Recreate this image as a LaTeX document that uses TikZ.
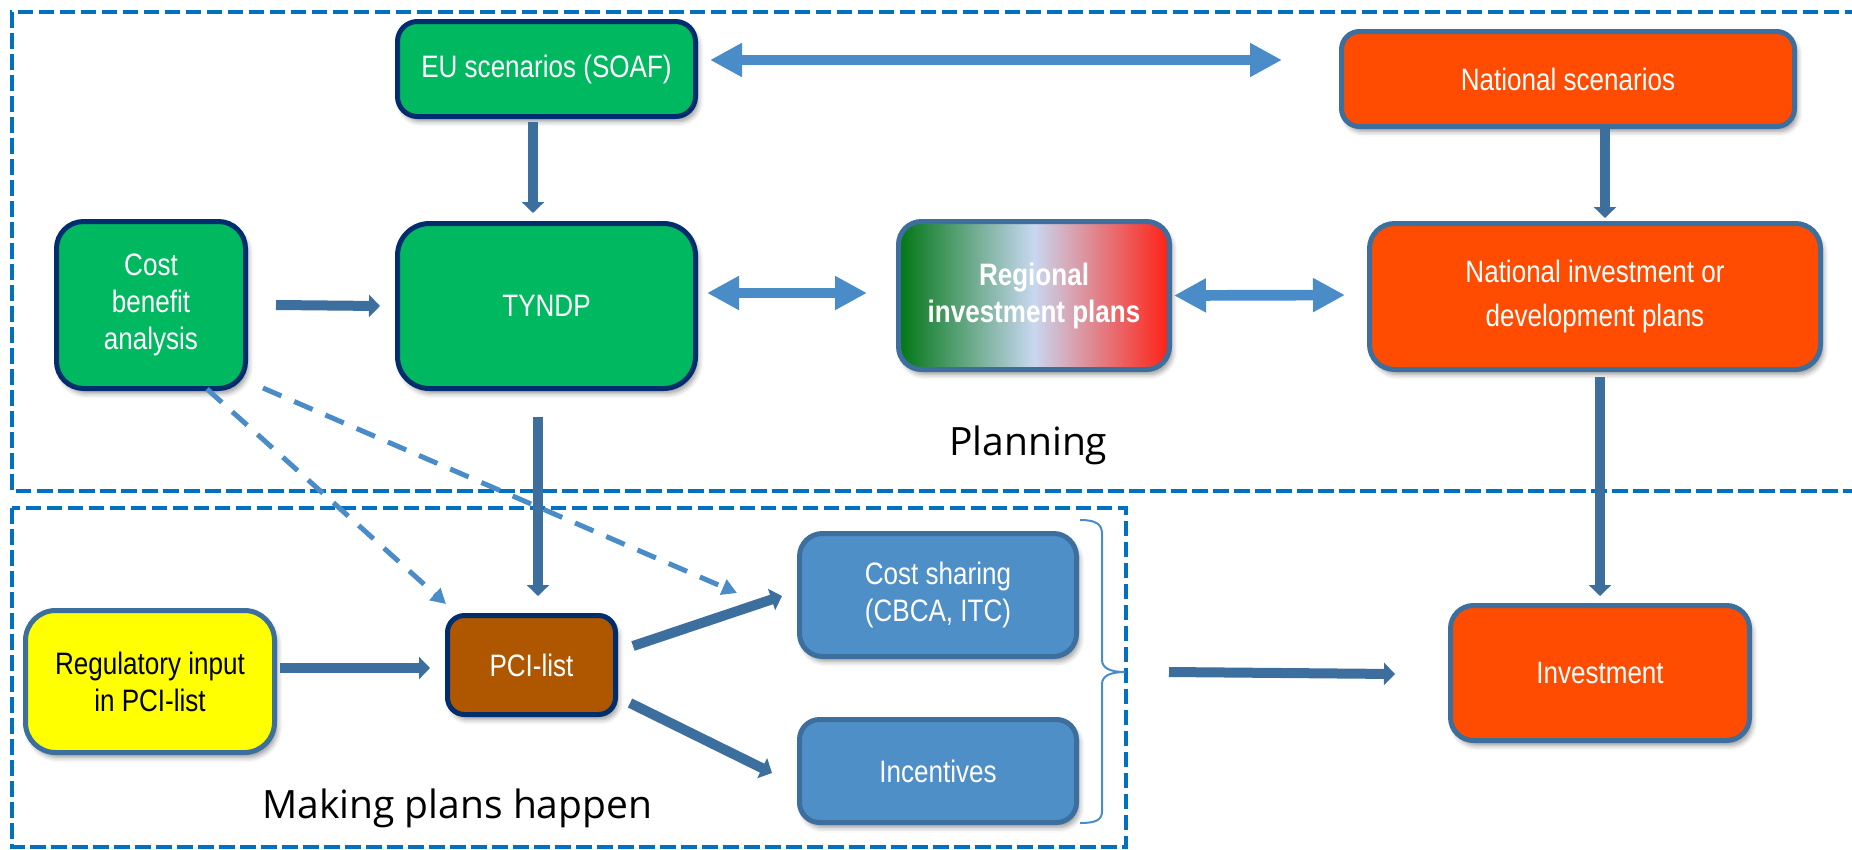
\documentclass[tikz,border=0pt]{standalone}
\usepackage{fontspec}
\newfontfamily\boxfont[FakeStretch=0.84]{Liberation Sans}
\newfontfamily\titlefont{Open Sans}
\usetikzlibrary{arrows.meta,shadows.blur,calc}
\definecolor{cgreen}{RGB}{0,184,96}
\definecolor{cnavy}{RGB}{0,45,110}
\definecolor{corange}{RGB}{255,76,0}
\definecolor{csteel}{RGB}{60,110,158}
\definecolor{clight}{RGB}{74,140,200}
\definecolor{cblue}{RGB}{79,143,200}
\definecolor{cbrown}{RGB}{174,87,0}
\definecolor{cyellow}{RGB}{255,255,0}
\definecolor{cdash}{RGB}{0,112,192}
\definecolor{gdark}{RGB}{0,118,20}
\definecolor{gmid}{RGB}{200,215,240}
\definecolor{gred}{RGB}{255,32,20}
\tikzset{
  box/.style={rounded corners=#1, line width=5pt, align=center, text=white, inner sep=2pt,
    font=\boxfont\fontsize{31}{37}\selectfont,
    blur shadow={shadow xshift=3pt,shadow yshift=-5pt,shadow blur radius=5pt,shadow opacity=40}},
  greenbox/.style={box=#1, fill=cgreen, draw=cnavy},
  orangebox/.style={box=#1, fill=corange, draw=csteel},
  bluebox/.style={box=#1, fill=cblue, draw=csteel},
  darrow/.style={line width=10pt, draw=csteel, -{Triangle[width=22pt,length=11pt]}},
  larrow/.style={line width=10.7pt, draw=clight, {Triangle[width=32pt,length=32pt]}-{Triangle[width=32pt,length=32pt]}},
  dasharrow/.style={line width=5pt, draw=clight, dash pattern=on 20pt off 14pt, -{Triangle[width=16pt,length=15pt]}},
  region/.style={draw=cdash, line width=4pt, dash pattern=on 15.5pt off 5.5pt},
  bracestyle/.style={draw=clight, line width=2pt},
  title/.style={anchor=base west, inner sep=0pt, font=\titlefont\fontsize{39}{45}\selectfont}
}
\begin{document}
\begin{tikzpicture}[x=1pt,y=-1pt]
\useasboundingbox (0,0) rectangle (1852,849);
% regions
\draw[region] (1860,12) -- (12,12) -- (12,491) -- (1860,491);
\draw[region] (12,508) rectangle (1126,847);
\node[title] (plan) at (949,455) {Planning};
\node[title] (make) at (262,818) {Making plans happen};
% nodes
\node[greenbox=20pt, minimum width=298pt, minimum height=95pt] (eu) at (546.5,69) {EU scenarios (SOAF)};
\node[greenbox=32pt, minimum width=298pt, minimum height=165pt] (tyndp) at (546.5,306) {TYNDP};
\node[greenbox=27pt, minimum width=189pt, minimum height=167pt] (cba) at (151,305) {Cost\\benefit\\analysis};
\node[box=23pt, draw=csteel, left color=gdark, right color=gred, middle color=gmid, minimum width=271pt, minimum height=148pt, font=\boxfont\bfseries\fontsize{31}{37}\selectfont] (reg) at (1034,295.5) {Regional\\investment plans};
\node[orangebox=18pt, minimum width=453pt, minimum height=95pt] (natsc) at (1568,79) {National scenarios};
\node[orangebox=25pt, minimum width=451pt, minimum height=146pt, font=\boxfont\fontsize{31}{43.5}\selectfont] (natinv) at (1595,296.5) {National investment or\\development plans};
\node[box=30pt, fill=cyellow, draw=csteel, text=black, minimum width=249pt, minimum height=142pt] (regin) at (150,681.5) {Regulatory input\\in PCI-list};
\node[box=17pt, fill=cbrown, draw=cnavy, minimum width=168pt, minimum height=99pt] (pci) at (531.5,665) {PCI-list};
\node[bluebox=23pt, minimum width=277pt, minimum height=123pt] (cost) at (938,595) {Cost sharing\\(CBCA, ITC)};
\node[bluebox=20pt, minimum width=277pt, minimum height=103pt] (incent) at (938,771) {Incentives};
\node[orangebox=23pt, minimum width=299pt, minimum height=135pt] (invest) at (1600,673) {Investment};
% brace
\draw[bracestyle] (1080,520) .. controls (1096,520) and (1102,524) .. (1102,534) -- (1102,660)
  .. controls (1102,668) and (1110,672) .. (1125,672)
  .. controls (1110,672) and (1102,676) .. (1102,684) -- (1102,811)
  .. controls (1102,820) and (1096,823) .. (1080,823);
\coordinate (bracetip) at (1125,672);
% connectors
\draw[larrow] ([xshift=12pt,yshift=9pt]eu.east) -- ([xshift=-57pt,yshift=19pt]natsc.west);
\draw[darrow] ([xshift=-13.5pt,yshift=-3pt]eu.south) -- ([xshift=-13.5pt,yshift=8pt]tyndp.north);
\draw[darrow] ([xshift=28pt]cba.east) -- ([xshift=-15pt]tyndp.west);
\draw[larrow] ([xshift=9pt,yshift=13pt]tyndp.east) -- ([xshift=-29pt,yshift=2.5pt]reg.west);
\draw[larrow] ([xshift=2pt]reg.east) -- ([xshift=-22pt,yshift=1.5pt]natinv.west);
\draw[darrow] ([xshift=37pt,yshift=2pt]natsc.south) -- ([xshift=10pt,yshift=3pt]natinv.north);
\draw[darrow] ([xshift=5pt,yshift=-5pt]natinv.south) -- ([yshift=7pt]invest.north);
\draw[darrow] ([xshift=-8.5pt,yshift=-26pt]tyndp.south) -- ([xshift=6.5pt,yshift=17pt]pci.north);
\draw[dasharrow] ([xshift=56pt,yshift=2pt]cba.south) -- ([xshift=1pt,yshift=9pt]pci.north west);
\draw[dasharrow] ([xshift=15pt,yshift=3pt]cba.south east) -- ([xshift=-60pt,yshift=2pt]cost.west);
\draw[darrow] ([xshift=3pt,yshift=13.5pt]regin.east) -- ([xshift=-15pt,yshift=-3pt]pci.west);
\draw[darrow] ([xshift=15pt,yshift=19pt]pci.east) -- ([xshift=-15pt,yshift=-1pt]cost.west);
\draw[darrow] ([xshift=12pt,yshift=-38pt]pci.east) -- ([xshift=-25pt,yshift=-2pt]incent.west);
\draw[darrow] ([xshift=44pt]bracetip) -- ([xshift=-53pt,yshift=-1pt]invest.west);
\end{tikzpicture}
\end{document}
